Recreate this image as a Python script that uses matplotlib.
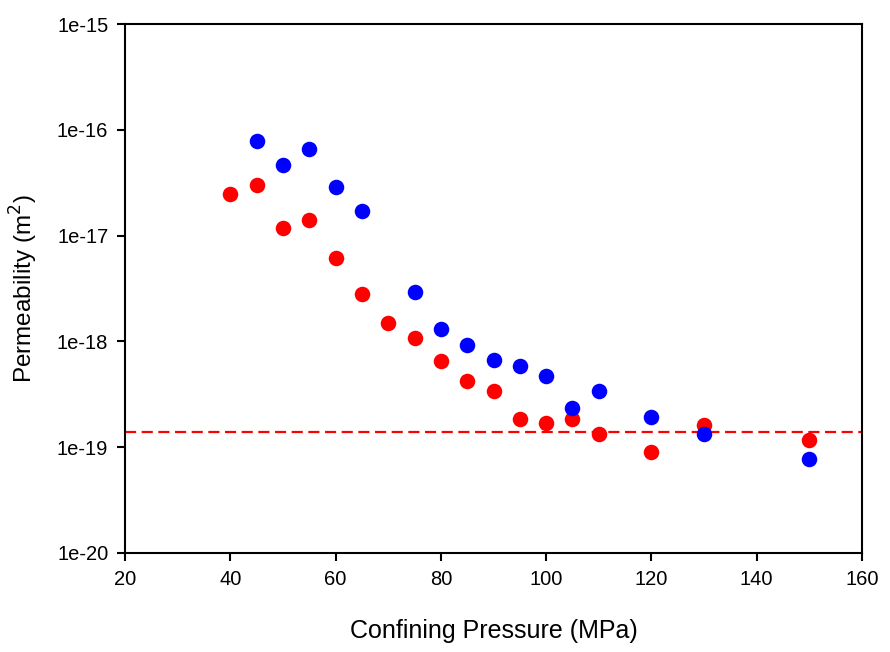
import matplotlib

matplotlib.use("Agg")
import matplotlib.pyplot as plt  # noqa: E402
from matplotlib.ticker import FixedLocator, NullLocator  # noqa: E402

plt.rcParams["font.family"] = ["Liberation Sans", "DejaVu Sans"]

# confining pressure (MPa) and permeability (m^2)
blue_p = [45, 50, 55, 60, 65, 75, 80, 85, 90, 95, 100, 105, 110, 120, 130, 150]
blue_k = [7.8e-17, 4.6e-17, 6.6e-17, 2.9e-17, 1.7e-17, 2.9e-18, 1.3e-18, 9.2e-19,
          6.7e-19, 5.9e-19, 4.7e-19, 2.35e-19, 3.4e-19, 1.93e-19, 1.33e-19, 7.7e-20]

red_p = [40, 45, 50, 55, 60, 65, 70, 75, 80, 85, 90, 95, 100, 105, 110, 120, 130, 150]
red_k = [2.47e-17, 3.0e-17, 1.18e-17, 1.4e-17, 6.1e-18, 2.8e-18, 1.49e-18, 1.08e-18,
         6.5e-19, 4.2e-19, 3.4e-19, 1.85e-19, 1.7e-19, 1.85e-19, 1.33e-19, 9.0e-20,
         1.63e-19, 1.17e-19]

threshold = 1.4e-19

y_ticks = [1e-20, 1e-19, 1e-18, 1e-17, 1e-16, 1e-15]
y_labels = ["1e-20", "1e-19", "1e-18", "1e-17", "1e-16", "1e-15"]
x_ticks = [20, 40, 60, 80, 100, 120, 140, 160]

fig = plt.figure(figsize=(8.9, 6.52), dpi=100)
ax = fig.add_axes([125 / 890, 1 - 553 / 652, 737 / 890, 529 / 652])

ax.axhline(threshold, color="#ff0000", linestyle=(0, (5, 2.5)), linewidth=1.6, zorder=1)
ax.scatter(red_p, red_k, s=125, color="#ff0000", linewidths=0, zorder=2)
ax.scatter(blue_p, blue_k, s=125, color="#0000ff", linewidths=0, zorder=3)

ax.set_yscale("log")
ax.set_xlim(20, 160)
ax.set_ylim(1e-20, 1e-15)
ax.yaxis.set_major_locator(FixedLocator(y_ticks))
ax.set_yticklabels(y_labels)
ax.yaxis.set_minor_locator(NullLocator())
ax.set_xticks(x_ticks)

for side in ax.spines.values():
    side.set_linewidth(1.5)
ax.tick_params(direction="out", length=6, width=1.5, labelsize=14.5, pad=6)

ax.set_xlabel("Confining Pressure (MPa)", fontsize=18, labelpad=22)
ax.set_ylabel("Permeability (m$^2$)", fontsize=17.5, labelpad=12)

fig.savefig("out.png", dpi=100)
